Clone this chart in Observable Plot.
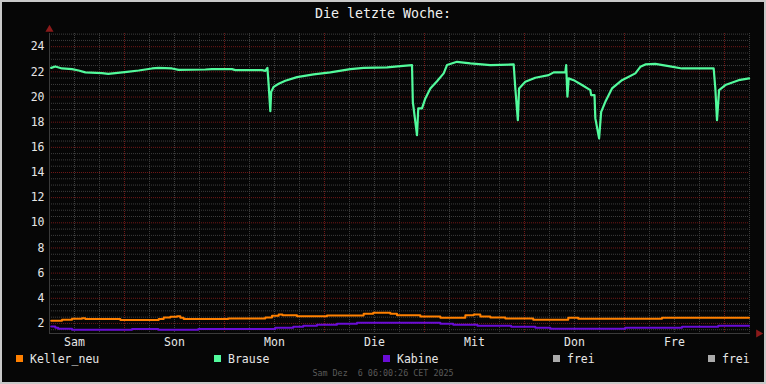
<!DOCTYPE html>
<html><head><meta charset="utf-8">
<script src="https://cdn.jsdelivr.net/npm/d3@7"></script>
<script src="https://cdn.jsdelivr.net/npm/@observablehq/plot@0.6"></script>
<style>html,body{margin:0;padding:0;background:#060606;} #chart{width:766px;height:384px;}</style>
</head><body><div id="chart"></div>
<script>
// ---- data (hours since Sat 06:00) ----
const titleText = "Die letzte Woche:";
const footerText = "Sam Dez  6 06:00:26 CET 2025";
const dayLabels = ["Sam","Son","Mon","Die","Mit","Don","Fre"];
const dayNoonHours = [6,30,54,78,102,126,150];
const yTickValues = [2,4,6,8,10,12,14,16,18,20,22,24];

const brauseHours = [0.4,1.4,3.0,5.4,7.0,8.6,12.6,14.1,15.8,18.6,21.4,24.6,26.2,29.4,31.0,37.4,39.0,43.8,44.6,51.0,51.8,52.3,52.6,53.0,53.2,53.8,55.0,56.6,59.4,63.4,67.4,72.2,75.4,81.0,84.2,87.0,87.2,87.8,88.2,88.5,89.4,90.2,91.4,93.0,94.6,95.4,97.8,101.0,105.8,111.4,111.8,112.4,112.7,114.2,116.6,119.8,121.0,123.8,124.0,124.3,124.6,125.8,127.8,129.8,130.0,130.8,131.0,131.9,132.4,133.4,135.0,137.4,140.6,141.8,143.0,145.4,148.6,151.8,159.4,159.8,160.2,160.7,162.2,165.4,167.9];
const brauseValues = [22.32,22.43,22.27,22.22,22.11,21.96,21.90,21.84,21.90,22.00,22.11,22.27,22.32,22.27,22.16,22.19,22.22,22.22,22.14,22.14,22.08,22.32,20.95,18.88,20.41,20.81,21.05,21.29,21.58,21.80,21.96,22.22,22.32,22.35,22.46,22.54,19.62,18.03,16.97,19.09,19.09,19.89,20.68,21.26,21.88,22.54,22.80,22.67,22.54,22.59,20.68,18.16,20.68,21.21,21.53,21.74,21.96,21.96,22.54,20.02,21.48,21.34,20.95,20.55,20.15,20.15,18.30,16.71,18.82,19.62,20.68,21.34,21.88,22.40,22.59,22.64,22.46,22.27,22.27,20.68,18.16,20.55,20.95,21.34,21.48];

const kellerHours = [0.4,3.0,5.4,7.8,8.6,17.0,26.2,27.4,29.0,30.6,31.4,32.2,42.9,51.8,53.4,55.0,55.9,59.4,66.6,75.4,77.7,81.8,83.4,89.0,93.8,99.8,101.8,103.4,105.8,109.4,116.1,124.5,126.9,147.0,167.9];
const kellerValues = [2.21,2.29,2.37,2.42,2.35,2.27,2.35,2.48,2.53,2.58,2.45,2.35,2.40,2.48,2.61,2.72,2.66,2.58,2.64,2.77,2.85,2.77,2.66,2.56,2.45,2.66,2.72,2.56,2.48,2.40,2.29,2.45,2.37,2.45,2.45];

const kabineHours = [0.4,1.4,2.1,5.4,19.8,26.1,35.7,54.2,58.5,60.9,64.2,69.0,73.8,93.8,96.9,102.7,110.8,116.6,120.2,138.2,151.8,160.5,167.9];
const kabineValues = [1.76,1.65,1.57,1.49,1.55,1.49,1.55,1.65,1.73,1.81,1.89,1.97,2.05,1.97,1.89,1.81,1.73,1.65,1.57,1.65,1.73,1.81,1.81];

const legendNames = ["Keller_neu","Brause","Kabine","frei","frei"];
const legendColors = ["#ff8000","#52fa9c","#6a0dd6","#aaaaaa","#aaaaaa"];

// ---- derived tables ----
const toRows = (hs, vs) => hs.map((h, i) => ({h, v: vs[i]}));
const brause = toRows(brauseHours, brauseValues);
const keller = toRows(kellerHours, kellerValues);
const kabine = toRows(kabineHours, kabineValues);
const minorY = d3.range(1.5, 25.01, 0.5).filter(v => v % 2 !== 0);
const majorX = d3.range(18, 168, 24);
const minorX = d3.range(0, 168.01, 6).filter(h => (h - 18) % 24 !== 0);

const W = 766, H = 384;
const svg = Plot.plot({
  width: W, height: H,
  marginLeft: 49, marginRight: 17, marginTop: 33, marginBottom: 51,
  style: {background: "#060606", color: "#e6e6e6", fontFamily: "DejaVu Sans Mono", fontSize: "11.5px"},
  x: {domain: [0, 168], axis: null},
  y: {domain: [1.2, 25.05], axis: null},
  marks: [
    Plot.ruleY(minorY, {stroke: "#3e3e3e", strokeDasharray: "1,1"}),
    Plot.ruleX(minorX, {stroke: "#3e3e3e", strokeDasharray: "1,1"}),
    Plot.ruleY(yTickValues, {stroke: "#701818", strokeDasharray: "1,1"}),
    Plot.ruleX(majorX, {stroke: "#701818", strokeDasharray: "1,1"}),
    Plot.frame({anchor: "bottom", stroke: "#3a3a3a"}),
    Plot.frame({anchor: "left", stroke: "#3a3a3a"}),
    Plot.line(keller, {x: "h", y: "v", stroke: legendColors[0], strokeWidth: 2, curve: "step-after"}),
    Plot.line(kabine, {x: "h", y: "v", stroke: legendColors[2], strokeWidth: 2, curve: "step-after"}),
    Plot.line(brause, {x: "h", y: "v", stroke: legendColors[1], strokeWidth: 2.2}),
    Plot.axisY(yTickValues, {tickSize: 0, tickPadding: 5, label: null, fill: "#e6e6e6"}),
    Plot.axisX(dayNoonHours, {tickSize: 0, tickPadding: 4, label: null, fill: "#e6e6e6",
      tickFormat: d => dayLabels[Math.round((d - 6) / 24)]}),
    Plot.dot([0], {frameAnchor: "top-left", dy: -4, symbol: "triangle", r: 3, fill: "#8b1a1a", stroke: null}),
    Plot.dot([0], {frameAnchor: "bottom-right", dx: 9, rotate: 90, symbol: "triangle", r: 3, fill: "#8b1a1a", stroke: null})
  ]
});

const s = d3.select(svg);
s.insert("rect", ":first-child").attr("x", 1).attr("y", 1).attr("width", W - 2).attr("height", H - 2)
  .attr("fill", "#060606").attr("stroke", "#c8c8c8").attr("stroke-width", 2);
s.append("text").attr("x", 383).attr("y", 18).attr("text-anchor", "middle")
  .attr("fill", "#f0f0f0").style("font", "13.3px 'DejaVu Sans Mono'").text(titleText);
s.append("text").attr("x", 383).attr("y", 376).attr("text-anchor", "middle")
  .attr("fill", "#5a5a5a").style("font", "8.4px 'DejaVu Sans Mono'").text(footerText);
const legendX = [16, 214, 383, 553, 708];
legendNames.forEach((name, i) => {
  s.append("rect").attr("x", legendX[i]).attr("y", 355).attr("width", 7).attr("height", 7).attr("fill", legendColors[i]);
  s.append("text").attr("x", legendX[i] + 14).attr("y", 363).attr("text-anchor", "start").attr("fill", "#e6e6e6")
    .style("font", "11.5px 'DejaVu Sans Mono'").text(name);
});
document.getElementById("chart").appendChild(svg);
</script></body></html>
